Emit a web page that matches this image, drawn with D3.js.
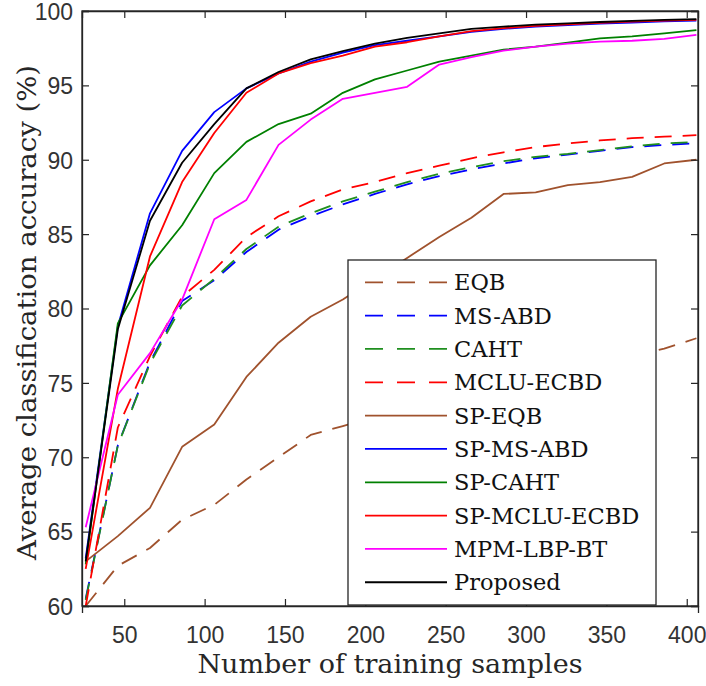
<!DOCTYPE html>
<html><head><meta charset="utf-8">
<script src="https://cdn.jsdelivr.net/npm/d3@7"></script>
<style>body{margin:0;background:#fff}svg{display:block}</style>
</head><body>
<script>
const xValues = [26,46,66,86,106,126,146,166,186,206,226,246,266,286,306,326,346,366,386,406];
const EQB        = [60.0,62.7,63.9,65.8,66.8,68.5,70.0,71.5,72.1,72.7,73.3,73.8,74.4,74.9,75.4,75.9,76.4,76.8,77.3,78.0];
const MS_ABD     = [60.5,70.8,76.4,80.5,81.9,83.8,85.3,86.2,87.0,87.7,88.35,88.9,89.35,89.75,90.1,90.35,90.6,90.85,91.0,91.1];
const CAHT       = [60.4,70.8,76.3,80.2,82.0,84.0,85.5,86.4,87.2,87.85,88.5,89.05,89.5,89.9,90.2,90.4,90.65,90.9,91.1,91.2];
const MCLU_ECBD  = [60.0,72.0,76.8,80.8,82.6,84.8,86.2,87.2,88.0,88.5,89.1,89.6,90.1,90.5,90.85,91.1,91.3,91.45,91.55,91.65];
const SP_EQB     = [63.0,64.7,66.6,70.7,72.2,75.4,77.7,79.45,80.6,82.0,83.4,84.8,86.1,87.7,87.8,88.3,88.5,88.85,89.75,90.0];
const SP_MS_ABD  = [63.2,78.8,86.4,90.6,93.2,94.8,95.8,96.6,97.2,97.7,98.0,98.3,98.6,98.8,98.95,99.05,99.15,99.22,99.3,99.35];
const SP_CAHT    = [62.8,79.0,82.9,85.6,89.1,91.2,92.4,93.1,94.5,95.4,96.0,96.6,97.0,97.4,97.6,97.87,98.16,98.3,98.5,98.72];
const SP_MCLU    = [62.5,74.6,83.5,88.5,91.8,94.5,95.8,96.5,97.0,97.6,97.9,98.3,98.65,98.85,99.0,99.1,99.2,99.28,99.35,99.4];
const MPM_LBP_BT = [65.3,74.2,77.0,80.6,86.0,87.3,91.0,92.7,94.1,94.5,94.9,96.4,96.9,97.33,97.6,97.8,97.94,98.0,98.13,98.4];
const PROPOSED   = [63.0,78.6,85.9,89.8,92.4,94.8,95.9,96.75,97.3,97.8,98.2,98.5,98.8,98.95,99.08,99.17,99.26,99.33,99.4,99.46];

const seriesNames  = ["EQB","MS-ABD","CAHT","MCLU-ECBD","SP-EQB","SP-MS-ABD","SP-CAHT","SP-MCLU-ECBD","MPM-LBP-BT","Proposed"];
const seriesValues = [EQB,MS_ABD,CAHT,MCLU_ECBD,SP_EQB,SP_MS_ABD,SP_CAHT,SP_MCLU,MPM_LBP_BT,PROPOSED];
const seriesColors = ["#a0522d","#0000ff","#1f8f1f","#ff0000","#a0522d","#0000ff","#008000","#ff0000","#ff00ff","#000000"];
const seriesDashed = [true,true,true,true,false,false,false,false,false,false];
const xTicks = [50,100,150,200,250,300,350,400];
const yTicks = [60,65,70,75,80,85,90,95,100];

const W = 706, H = 686;
const L = 82, R = 698, T = 11, B = 606;
const svg = d3.select("body").append("svg").attr("width", W).attr("height", H);
svg.append("rect").attr("width", W).attr("height", H).attr("fill", "#fff");

const x = d3.scaleLinear().domain([23.7, 407]).range([L, R]);
const y = d3.scaleLinear().domain([60, 100]).range([B, T]);

const axisColor = "#262626";
const tickFont = "'Liberation Sans', Arial, sans-serif";
const serif = "'DejaVu Serif', serif";

// Lines
const line = d3.line().x((d, i) => x(xValues[i])).y(d => y(d));
const plot = svg.append("g");
seriesValues.forEach((vals, k) => {
  plot.append("path").datum(vals)
    .attr("d", line)
    .attr("fill", "none")
    .attr("stroke", seriesColors[k])
    .attr("stroke-width", 1.8)
    .attr("stroke-linejoin", "round")
    .attr("stroke-dasharray", seriesDashed[k] ? "17,11" : null);
});

// Axes (box with inner ticks on all sides)
const tl = 7;
const axB = d3.axisBottom(x).tickValues(xTicks).tickSize(tl).tickPadding(0).tickFormat(d3.format("d"));
const gB = svg.append("g").attr("transform", `translate(0,${B})`).call(axB);
gB.selectAll(".tick line").attr("y2", -tl);
gB.selectAll(".tick text").attr("y", 0).attr("dy", 37);
const axT = d3.axisTop(x).tickValues(xTicks).tickSize(-tl).tickFormat("");
svg.append("g").attr("transform", `translate(0,${T})`).call(axT);
const axL = d3.axisLeft(y).tickValues(yTicks).tickSize(-tl).tickPadding(10).tickFormat(d3.format("d"));
const gL = svg.append("g").attr("transform", `translate(${L},0)`).call(axL);
gL.selectAll(".tick text").attr("x", -9).attr("dy", "0.36em");
const axR = d3.axisRight(y).tickValues(yTicks).tickSize(-tl).tickFormat("");
svg.append("g").attr("transform", `translate(${R},0)`).call(axR);

svg.selectAll(".domain").attr("stroke", axisColor).attr("stroke-width", 1.3);
svg.selectAll(".tick line").attr("stroke", axisColor).attr("stroke-width", 1.2);
svg.selectAll(".tick text").attr("font-family", tickFont).attr("font-size", 23).attr("fill", "#333");

svg.append("rect").attr("x", L).attr("y", T).attr("width", R - L).attr("height", B - T)
  .attr("fill", "none").attr("stroke", axisColor).attr("stroke-width", 1.3);

// Axis labels
svg.append("text").attr("x", (L + R) / 2).attr("y", 673)
  .attr("text-anchor", "middle").attr("font-family", serif).attr("font-size", 26)
  .attr("fill", "#262626").attr("textLength", 385).attr("lengthAdjust", "spacingAndGlyphs")
  .text("Number of training samples");
svg.append("text").attr("transform", `translate(36,${(T + B) / 2 + 4}) rotate(-90)`)
  .attr("text-anchor", "middle").attr("font-family", serif).attr("font-size", 26)
  .attr("fill", "#262626").attr("textLength", 495).attr("lengthAdjust", "spacingAndGlyphs")
  .text("Average classification accuracy (%)");

// Legend
const lg = svg.append("g");
const lgX = 348, lgY = 260, lgW = 308, lgH = 345;
lg.append("rect").attr("x", lgX).attr("y", lgY).attr("width", lgW).attr("height", lgH)
  .attr("fill", "#fff").attr("stroke", axisColor).attr("stroke-width", 1.3);
seriesNames.forEach((name, k) => {
  const yy = 282.3 + k * 33.33;
  lg.append("line").attr("x1", 365).attr("x2", 447).attr("y1", yy).attr("y2", yy)
    .attr("stroke", seriesColors[k]).attr("stroke-width", 1.8)
    .attr("stroke-dasharray", seriesDashed[k] ? "18,14" : null);
  lg.append("text").attr("x", 454).attr("y", yy).attr("dy", "0.36em")
    .attr("font-family", serif).attr("font-size", 22.5).attr("fill", "#111")
    .text(name);
});
</script>
</body></html>
